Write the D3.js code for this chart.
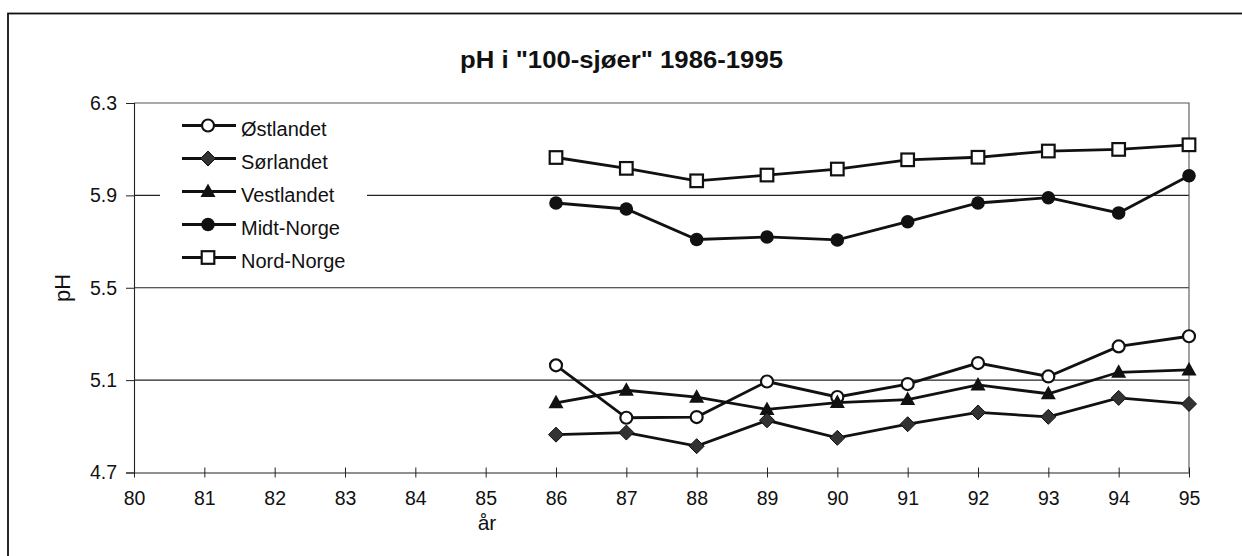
<!DOCTYPE html>
<html><head><meta charset="utf-8">
<script src="https://cdn.jsdelivr.net/npm/d3@7/dist/d3.min.js"></script>
<style>body{margin:0;background:#fff}svg{display:block}text{font-family:"Liberation Sans",Arial,sans-serif;fill:#111}</style>
</head><body>
<svg id="c" width="1242" height="556"></svg>
<script>
const years = [86,87,88,89,90,91,92,93,94,95];
const xTicks = [80,81,82,83,84,85,86,87,88,89,90,91,92,93,94,95];
const yTicks = [4.7,5.1,5.5,5.9,6.3];
const ostlandet  = [5.164,4.937,4.940,5.094,5.027,5.083,5.174,5.116,5.246,5.290];
const sorlandet  = [4.864,4.873,4.814,4.926,4.850,4.909,4.960,4.941,5.023,4.997];
const vestlandet = [5.002,5.056,5.026,4.973,5.003,5.016,5.079,5.041,5.134,5.144];
const midtNorge  = [5.867,5.841,5.709,5.720,5.707,5.786,5.867,5.890,5.824,5.985];
const nordNorge  = [6.064,6.017,5.963,5.988,6.014,6.054,6.065,6.092,6.099,6.119];
const seriesNames = ["Østlandet","Sørlandet","Vestlandet","Midt-Norge","Nord-Norge"];
const seriesData = [ostlandet,sorlandet,vestlandet,midtNorge,nordNorge];
const markers = ["circleOpen","diamond","triangle","circle","squareOpen"];

const svg = d3.select("#c");
const x = d3.scaleLinear().domain([80,95]).range([134,1189]);
const y = d3.scaleLinear().domain([4.7,6.3]).range([472.5,103]);
const FONT = "Liberation Sans, Arial, sans-serif";

// outer frame
svg.append("rect").attr("x",8).attr("y",13.5).attr("width",1260).attr("height",600)
  .attr("fill","none").attr("stroke","#111").attr("stroke-width",1.8);

// title
svg.append("text").attr("x",621.5).attr("y",68).attr("text-anchor","middle")
  .attr("font-size",23).attr("font-weight","bold")
  .attr("textLength",323).attr("lengthAdjust","spacingAndGlyphs")
  .text('pH i "100-sjøer" 1986-1995');

// gridlines
svg.append("g").selectAll("line").data([5.1,5.5,5.9]).join("line")
  .attr("x1",x(80)).attr("x2",x(95)).attr("y1",d=>y(d)).attr("y2",d=>y(d))
  .attr("stroke","#222").attr("stroke-width",1.1);
// plot border top/right
svg.append("path").attr("d",`M${x(80)},${y(6.3)}H${x(95)}V${y(4.7)}`)
  .attr("fill","none").attr("stroke","#555").attr("stroke-width",1.1);

// y axis
const ya = svg.append("g").attr("transform",`translate(${x(80)},0)`)
  .call(d3.axisLeft(y).tickValues(yTicks).tickFormat(d3.format(".1f")).tickSize(8).tickPadding(9));
ya.select(".domain").attr("stroke","#222").attr("stroke-width",1.1);
ya.selectAll(".tick line").attr("stroke","#222");
ya.selectAll("text").attr("font-size",19.5).attr("font-family",FONT).attr("fill","#111");
// x axis
const xa = svg.append("g").attr("transform",`translate(0,${y(4.7)})`)
  .call(d3.axisBottom(x).tickValues(xTicks).tickFormat(d=>d).tickSizeInner(5).tickSizeOuter(0).tickPadding(14));
xa.selectAll(".tick line").attr("y1",-5).attr("y2",5).attr("stroke","#222");
xa.select(".domain").attr("stroke","#222").attr("stroke-width",1.2);
xa.selectAll("text").attr("font-size",19.5).attr("font-family",FONT).attr("fill","#111");

svg.append("text").attr("x",487).attr("y",530).attr("text-anchor","middle").attr("font-size",21).text("år");
svg.append("text").attr("transform","translate(70,288) rotate(-90)").attr("text-anchor","middle").attr("font-size",22).text("pH");

function drawMarker(g, type, cx, cy){
  if(type==="circleOpen") g.append("circle").attr("cx",cx).attr("cy",cy).attr("r",6).attr("fill","#fff").attr("stroke","#111").attr("stroke-width",2.2);
  else if(type==="circle") g.append("circle").attr("cx",cx).attr("cy",cy).attr("r",6.8).attr("fill","#111");
  else if(type==="squareOpen") g.append("rect").attr("x",cx-6.3).attr("y",cy-6.3).attr("width",12.6).attr("height",12.6).attr("fill","#fff").attr("stroke","#111").attr("stroke-width",2.2);
  else if(type==="diamond") g.append("path").attr("d",`M${cx},${cy-7.5}L${cx+7.5},${cy}L${cx},${cy+7.5}L${cx-7.5},${cy}Z`).attr("fill","#333").attr("stroke","#111").attr("stroke-width",1);
  else if(type==="triangle") g.append("path").attr("d",`M${cx},${cy-8}L${cx+7.5},${cy+5.5}L${cx-7.5},${cy+5.5}Z`).attr("fill","#111");
}

const line = d3.line().x((d,i)=>x(years[i])).y(d=>y(d));
const order = [4,3,0,2,1];
order.forEach(si=>{
  svg.append("path").datum(seriesData[si]).attr("d",line).attr("fill","none").attr("stroke","#111").attr("stroke-width",2.8);
});
order.forEach(si=>{
  const g = svg.append("g");
  seriesData[si].forEach((v,i)=>drawMarker(g, markers[si], x(years[i]), y(v)));
});

// legend
const lg = svg.append("g");
lg.append("rect").attr("x",160).attr("y",110).attr("width",207).attr("height",164).attr("fill","#fff");
seriesNames.forEach((n,i)=>{
  const cy = 125.5 + i*33;
  lg.append("line").attr("x1",182).attr("x2",236).attr("y1",cy).attr("y2",cy).attr("stroke","#111").attr("stroke-width",2.8);
  drawMarker(lg, markers[i], 208, cy);
  lg.append("text").attr("x",241).attr("y",cy+10.5).attr("font-size",20).text(n);
});
</script>
</body></html>
